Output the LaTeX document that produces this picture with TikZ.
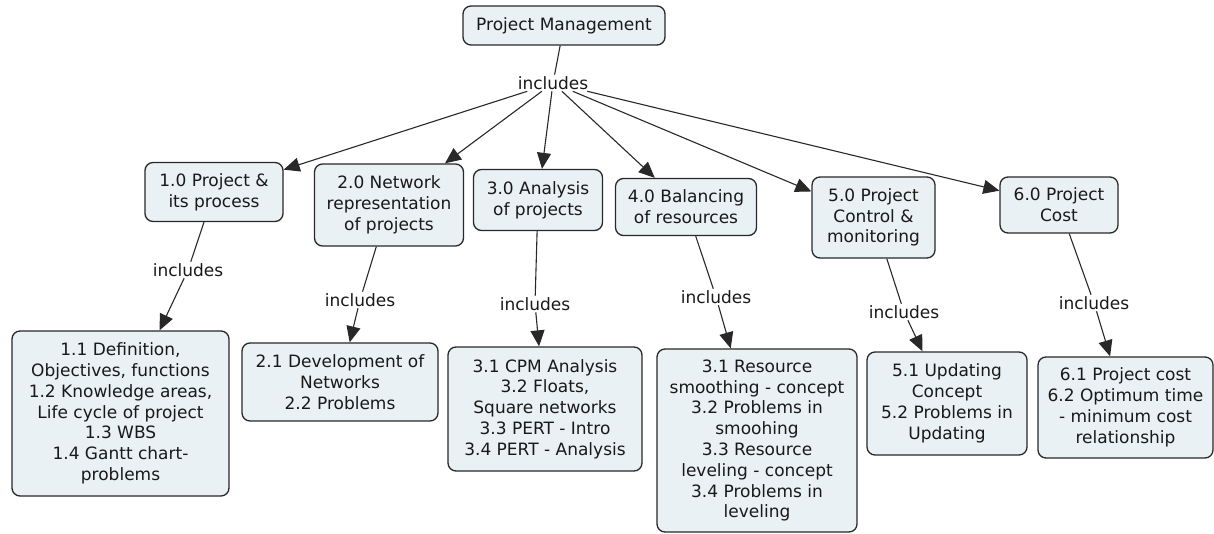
\documentclass[tikz,border=0pt]{standalone}
\usepackage{fontspec}
\setmainfont{DejaVu Sans}
\usetikzlibrary{arrows.meta}
\definecolor{boxfill}{RGB}{233,241,244}
\definecolor{boxdraw}{RGB}{40,40,40}
\definecolor{txt}{RGB}{25,25,25}
\begin{document}
\begin{tikzpicture}[x=1pt,y=-1pt,
  box/.style={draw=boxdraw, fill=boxfill, line width=1.3pt, rounded corners=8pt,
    align=center, font=\fontsize{17}{20.8}\selectfont, text=txt, inner sep=0pt},
  lab/.style={font=\fontsize{17}{20.8}\selectfont, text=txt, inner sep=1.5pt},
  con/.style={draw=boxdraw, line width=1.1pt},
  arr/.style={con, -{Triangle[length=16pt,width=14pt]}}]
\useasboundingbox (0,0) rectangle (1214,534);

% top
\node[box, minimum width=202pt, minimum height=39pt] (pm) at (564,25.5) {Project Management};
\node[lab] (l0) at (553,83) {includes};

% level 1
\node[box, minimum width=138pt, minimum height=59pt] (n1) at (214,192) {1.0 Project \&\\its process};
\node[box, minimum width=149pt, minimum height=82pt] (n2) at (389,205) {2.0 Network\\representation\\of projects};
\node[box, minimum width=129pt, minimum height=61pt] (n3) at (538,200) {3.0 Analysis\\of projects};
\node[box, minimum width=141pt, minimum height=57pt] (n4) at (686,207) {4.0 Balancing\\of resources};
\node[box, minimum width=123pt, minimum height=81pt] (n5) at (873.5,217.5) {5.0 Project\\Control \&\\monitoring};
\node[box, minimum width=118pt, minimum height=56pt] (n6) at (1059,205) {6.0 Project\\Cost};

% labels
\node[lab] (l1) at (188,270) {includes};
\node[lab] (l2) at (360,300) {includes};
\node[lab] (l3) at (535,304) {includes};
\node[lab] (l4) at (716,297) {includes};
\node[lab] (l5) at (904,312) {includes};
\node[lab] (l6) at (1094,303) {includes};

% level 2
\node[box, minimum width=217pt, minimum height=165pt] (c1) at (120.5,413.5) {1.1 Definition,\\Objectives, functions\\1.2 Knowledge areas,\\Life cycle of project\\1.3 WBS\\1.4 Gantt chart-\\problems};
\node[box, minimum width=196pt, minimum height=78pt] (c2) at (340,382) {2.1 Development of\\Networks\\2.2 Problems};
\node[box, minimum width=194pt, minimum height=124pt] (c3) at (545,409) {3.1 CPM Analysis\\3.2 Floats,\\Square networks\\3.3 PERT - Intro\\3.4 PERT - Analysis};
\node[box, minimum width=200pt, minimum height=183pt] (c4) at (757,440.5) {3.1 Resource\\smoothing - concept\\3.2 Problems in\\smoohing\\3.3 Resource\\leveling - concept\\3.4 Problems in\\leveling};
\node[box, minimum width=160pt, minimum height=103pt] (c5) at (947,403.5) {5.1 Updating\\Concept\\5.2 Problems in\\Updating};
\node[box, minimum width=175pt, minimum height=101pt] (c6) at (1125.5,407.5) {6.1 Project cost\\6.2 Optimum time\\- minimum cost\\relationship};

% connectors
\draw[con] (pm) -- (l0);
\foreach \n in {n1,n2,n3,n4,n5,n6} { \draw[arr] (l0) -- (\n); }
\foreach \i in {1,...,6} {
  \draw[con] (n\i) -- (l\i);
  \draw[arr] (l\i) -- (c\i);
}
\end{tikzpicture}
\end{document}
